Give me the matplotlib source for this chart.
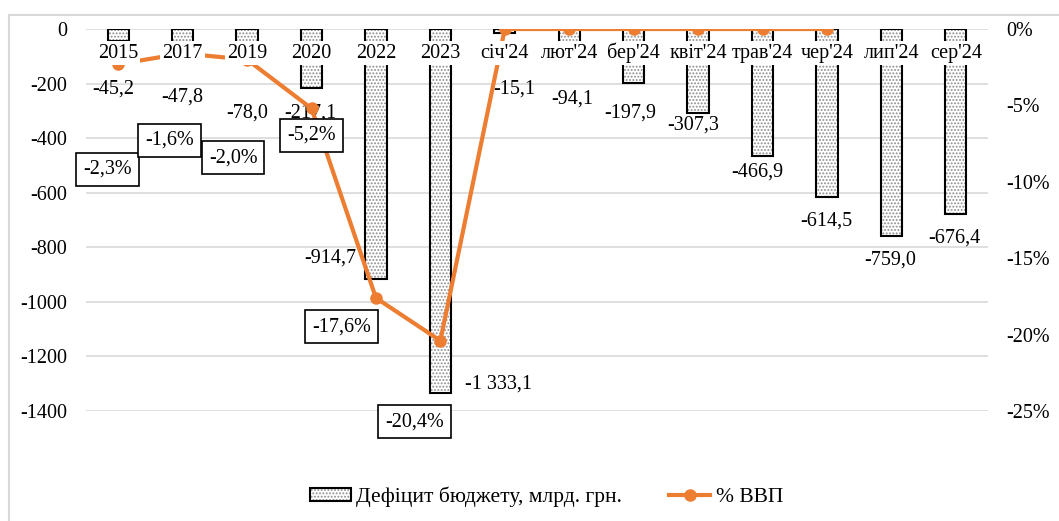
import numpy as np
import matplotlib.pyplot as plt
from matplotlib.lines import Line2D
from matplotlib.patches import Patch
from matplotlib.ticker import FuncFormatter

plt.rcParams['font.family'] = ['Liberation Serif', 'DejaVu Serif']
plt.rcParams['axes.unicode_minus'] = False
plt.rcParams['hatch.color'] = '#8c8c8c'
plt.rcParams['hatch.linewidth'] = 0.9

categories = ['2015', '2017', '2019', '2020', '2022', '2023',
              "січ'24", "лют'24", "бер'24", "квіт'24", "трав'24",
              "чер'24", "лип'24", "сер'24"]
deficit = [-45.2, -47.8, -78.0, -217.1, -914.7, -1333.1,
           -15.1, -94.1, -197.9, -307.3, -466.9, -614.5, -759.0, -676.4]
gdp_share = [-2.3, -1.6, -2.0, -5.2, -17.6, -20.4,
             0, 0, 0, 0, 0, 0, np.nan, np.nan]

# label offsets in pixels (dx, dy) relative to the bar end / line point
bar_label_offsets = [(-5, -48), (0, -55), (0, -63), (-1, -25), (-46, 21), (58, 9),
                     (9, -56), (3, -44), (-3, -30), (-5, -12), (-5, -16),
                     (-1, -24), (-1, -24), (-1, -24)]
pct_label_offsets = [(-11, -105), (-13, -87), (-14, -98), (0, -27), (-34, -29), (-26, -81)]

orange = '#ED7D31'
fs = 14.5

def fmt_num(v):
    return f'{v:,.1f}'.replace(',', ' ').replace('.', ',')

fig = plt.figure(figsize=(10.59, 5.21), dpi=100)
ax = fig.add_axes([86 / 1059, 110 / 521, 902 / 1059, 382 / 521])
ax2 = ax.twinx()

x = np.arange(len(categories))

# bars: dotted fill first, black outline on top
ax.bar(x, deficit, width=0.33, color='white', hatch='.....', linewidth=0, zorder=2)
ax.bar(x, deficit, width=0.33, fill=False, edgecolor='black', linewidth=1.5, zorder=3)

for xi, v, (dx, dy) in zip(x, deficit, bar_label_offsets):
    ax.annotate(fmt_num(v), xy=(xi, v), xytext=(dx, dy), textcoords='offset pixels',
                ha='center', va='center', fontsize=fs, zorder=4)

ax.set_xlim(-0.5, len(categories) - 0.5)
ax.set_ylim(-1400, 0)
ax.set_yticks(np.arange(-1400, 1, 200))
ax.yaxis.grid(True, color='#d9d9d9', linewidth=1.2)
ax.set_axisbelow(True)
ax.set_xticks([])
ax.tick_params(axis='y', length=0, pad=13.5, labelsize=fs)
for s in ax.spines.values():
    s.set_visible(False)

# share of GDP line
line, = ax2.plot(x, gdp_share, color=orange, linewidth=3.0, marker='o',
                 markersize=8, zorder=2)
ax2.set_ylim(-25, 0)
ax2.set_yticks(np.arange(-25, 1, 5))
ax2.yaxis.set_major_formatter(FuncFormatter(lambda v, _: f'{v:.0f}%'))
ax2.tick_params(axis='y', length=0, pad=13, labelsize=fs)
for s in ax2.spines.values():
    s.set_visible(False)

for xi, v, (dx, dy) in zip(x, gdp_share, pct_label_offsets):
    ax2.annotate(fmt_num(v) + '%', xy=(xi, v), xytext=(dx, dy), textcoords='offset pixels',
                 ha='center', va='center', fontsize=fs, zorder=6,
                 bbox=dict(boxstyle='square,pad=0.35', facecolor='white',
                           edgecolor='black', linewidth=1.2))

# category labels sit just under the zero line
for xi, cat in zip(x, categories):
    ax2.annotate(cat, xy=(xi, 0), xytext=(0, -24), textcoords='offset pixels',
                 ha='center', va='center', fontsize=fs, zorder=5,
                 bbox=dict(boxstyle='square,pad=0.1', facecolor='white', edgecolor='none'))

bar_handle = (Patch(facecolor='white', hatch='.....', linewidth=0),
              Patch(fill=False, edgecolor='black', linewidth=1.5))
line_handle = Line2D([], [], color=orange, linewidth=3.0, marker='o', markersize=8)
fig.legend([bar_handle, line_handle], ['Дефіцит бюджету, млрд. грн.', '% ВВП'],
           loc='center', bbox_to_anchor=(0.516, 1 - 497 / 521), ncol=2, frameon=False,
           fontsize=15.5, handlelength=1.9, handleheight=0.5, handletextpad=0.25,
           columnspacing=2.2)

# chart frame
fig.add_artist(Line2D([9 / 1059, 1], [1 - 15 / 521] * 2, transform=fig.transFigure,
                      color='#d9d9d9', linewidth=1.5))
fig.add_artist(Line2D([9 / 1059] * 2, [0, 1 - 15 / 521], transform=fig.transFigure,
                      color='#d9d9d9', linewidth=1.5))

fig.savefig('out.png', dpi=100)
